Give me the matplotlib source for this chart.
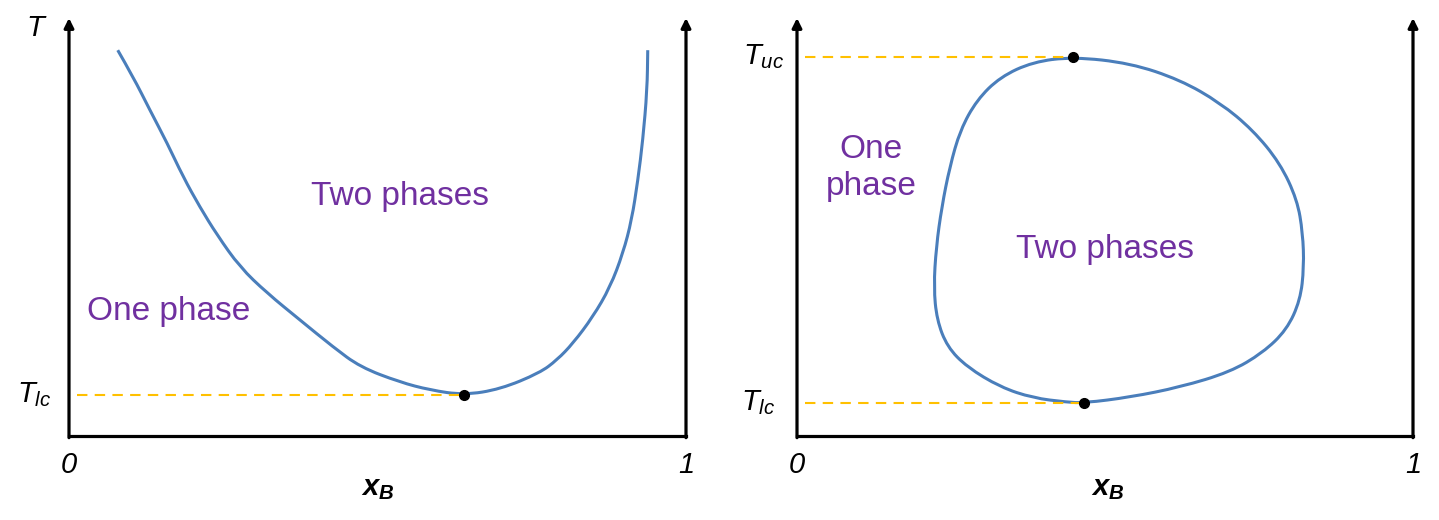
import matplotlib
matplotlib.use('Agg')
import matplotlib.pyplot as plt
from matplotlib.path import Path
from matplotlib.patches import PathPatch

plt.rcParams['font.family'] = 'Liberation Sans'
plt.rcParams['mathtext.fontset'] = 'custom'
plt.rcParams['mathtext.rm'] = 'Liberation Sans'
plt.rcParams['mathtext.it'] = 'Liberation Sans:italic'
plt.rcParams['mathtext.bf'] = 'Liberation Sans:bold:italic'

# Left panel: lower critical point curve (x_B, T)
lc_x = [0.079, 0.104, 0.131, 0.159, 0.185, 0.212, 0.240, 0.277, 0.321, 0.374,
        0.428, 0.472, 0.536, 0.585, 0.640, 0.699, 0.763, 0.791, 0.817, 0.849,
        0.877, 0.898, 0.912, 0.922, 0.930, 0.937, 0.938]
lc_T = [0.923, 0.859, 0.780, 0.701, 0.620, 0.548, 0.481, 0.404, 0.342, 0.278,
        0.213, 0.165, 0.129, 0.110, 0.098, 0.112, 0.151, 0.182, 0.222, 0.285,
        0.356, 0.438, 0.517, 0.612, 0.708, 0.828, 0.923]
left_crit = (0.640, 0.098)

# Right panel: closed-loop coexistence curve
loop_x = [0.448, 0.541, 0.622, 0.687, 0.740, 0.784, 0.812, 0.821, 0.823, 0.817,
          0.795, 0.756, 0.703, 0.622, 0.541, 0.466, 0.438, 0.383, 0.330, 0.276,
          0.244, 0.227, 0.222, 0.226, 0.235, 0.248, 0.265, 0.292, 0.330, 0.383]
loop_T = [0.907, 0.892, 0.852, 0.797, 0.732, 0.653, 0.565, 0.486, 0.404, 0.325,
          0.254, 0.199, 0.153, 0.117, 0.093, 0.079, 0.081, 0.091, 0.117, 0.165,
          0.213, 0.278, 0.356, 0.452, 0.548, 0.644, 0.732, 0.804, 0.859, 0.895]
uc_crit = (0.448, 0.907)
lc_crit = (0.466, 0.079)

curve_color = '#4a7ebb'
dash_color = '#ffc000'
label_color = '#7030a0'


def mid(a, b):
    return ((a[0] + b[0]) / 2, (a[1] + b[1]) / 2)


# smooth path: quadratic bezier segments using the read points as controls
def smooth_path(xs, ys, closed=False):
    pts = list(zip(xs, ys))
    if closed:
        verts = [mid(pts[-1], pts[0])]
        codes = [Path.MOVETO]
        for i in range(len(pts)):
            verts += [pts[i], mid(pts[i], pts[(i + 1) % len(pts)])]
            codes += [Path.CURVE3, Path.CURVE3]
    else:
        verts = [pts[0]]
        codes = [Path.MOVETO]
        for i in range(1, len(pts) - 1):
            verts += [pts[i], mid(pts[i], pts[i + 1])]
            codes += [Path.CURVE3, Path.CURVE3]
        verts.append(pts[-1])
        codes.append(Path.LINETO)
    return Path(verts, codes)


fig = plt.figure(figsize=(14.39, 5.2), dpi=100)
W, H = 1439, 520
ax1 = fig.add_axes([69 / W, (H - 436) / H, 617 / W, 418 / H])
ax2 = fig.add_axes([797 / W, (H - 436) / H, 616 / W, 418 / H])


def draw_frame(ax):
    ax.set_xlim(0, 1)
    ax.set_ylim(0, 1)
    ax.axis('off')
    arrow = dict(arrowstyle='-|>', lw=2.3, color='black', mutation_scale=14,
                 shrinkA=0, shrinkB=0)
    ax.annotate('', xy=(0, 1.0), xytext=(0, -0.004), arrowprops=arrow, annotation_clip=False)
    ax.annotate('', xy=(1, 1.0), xytext=(1, -0.004), arrowprops=arrow, annotation_clip=False)
    ax.plot([0, 1], [0, 0], color='black', lw=2.3, clip_on=False, solid_capstyle='projecting')
    ax.text(0, -0.069, '0', style='italic', fontsize=21, ha='center', va='center')
    ax.text(1, -0.069, '1', style='italic', fontsize=21, ha='center', va='center')


draw_frame(ax1)
draw_frame(ax2)

dash = (0, (5, 3.5))

# left panel
ax1.plot([0.013, left_crit[0]], [left_crit[1]] * 2, color=dash_color, lw=1.5, ls=dash)
ax1.add_patch(PathPatch(smooth_path(lc_x, lc_T), fill=False, edgecolor=curve_color, lw=2.2))
ax1.plot(*left_crit, 'o', color='black', ms=7, zorder=5)
ax1.text(-0.052, 0.976, '$T$', fontsize=21, ha='center', va='center')
ax1.text(-0.028, 0.098, '$T_{lc}$', fontsize=21, ha='right', va='center')
ax1.text(0.501, -0.124, r'$\mathbf{x_B}$', fontsize=21, ha='center', va='center')
ax1.text(0.536, 0.572, 'Two phases', fontsize=24, color=label_color, ha='center', va='center')
ax1.text(0.162, 0.297, 'One phase', fontsize=24, color=label_color, ha='center', va='center')

# right panel
ax2.plot([0.013, uc_crit[0]], [uc_crit[1]] * 2, color=dash_color, lw=1.5, ls=dash)
ax2.plot([0.013, lc_crit[0]], [lc_crit[1]] * 2, color=dash_color, lw=1.5, ls=dash)
ax2.add_patch(PathPatch(smooth_path(loop_x, loop_T, closed=True), fill=False,
                        edgecolor=curve_color, lw=2.2))
ax2.plot(*uc_crit, 'o', color='black', ms=7, zorder=5)
ax2.plot(*lc_crit, 'o', color='black', ms=7, zorder=5)
ax2.text(-0.021, 0.907, '$T_{uc}$', fontsize=21, ha='right', va='center')
ax2.text(-0.036, 0.081, '$T_{lc}$', fontsize=21, ha='right', va='center')
ax2.text(0.505, -0.124, r'$\mathbf{x_B}$', fontsize=21, ha='center', va='center')
ax2.text(0.12, 0.641, 'One\nphase', fontsize=24, color=label_color, ha='center', va='center',
         linespacing=1.25)
ax2.text(0.5, 0.445, 'Two phases', fontsize=24, color=label_color, ha='center', va='center')

fig.savefig('out.png', dpi=100)
